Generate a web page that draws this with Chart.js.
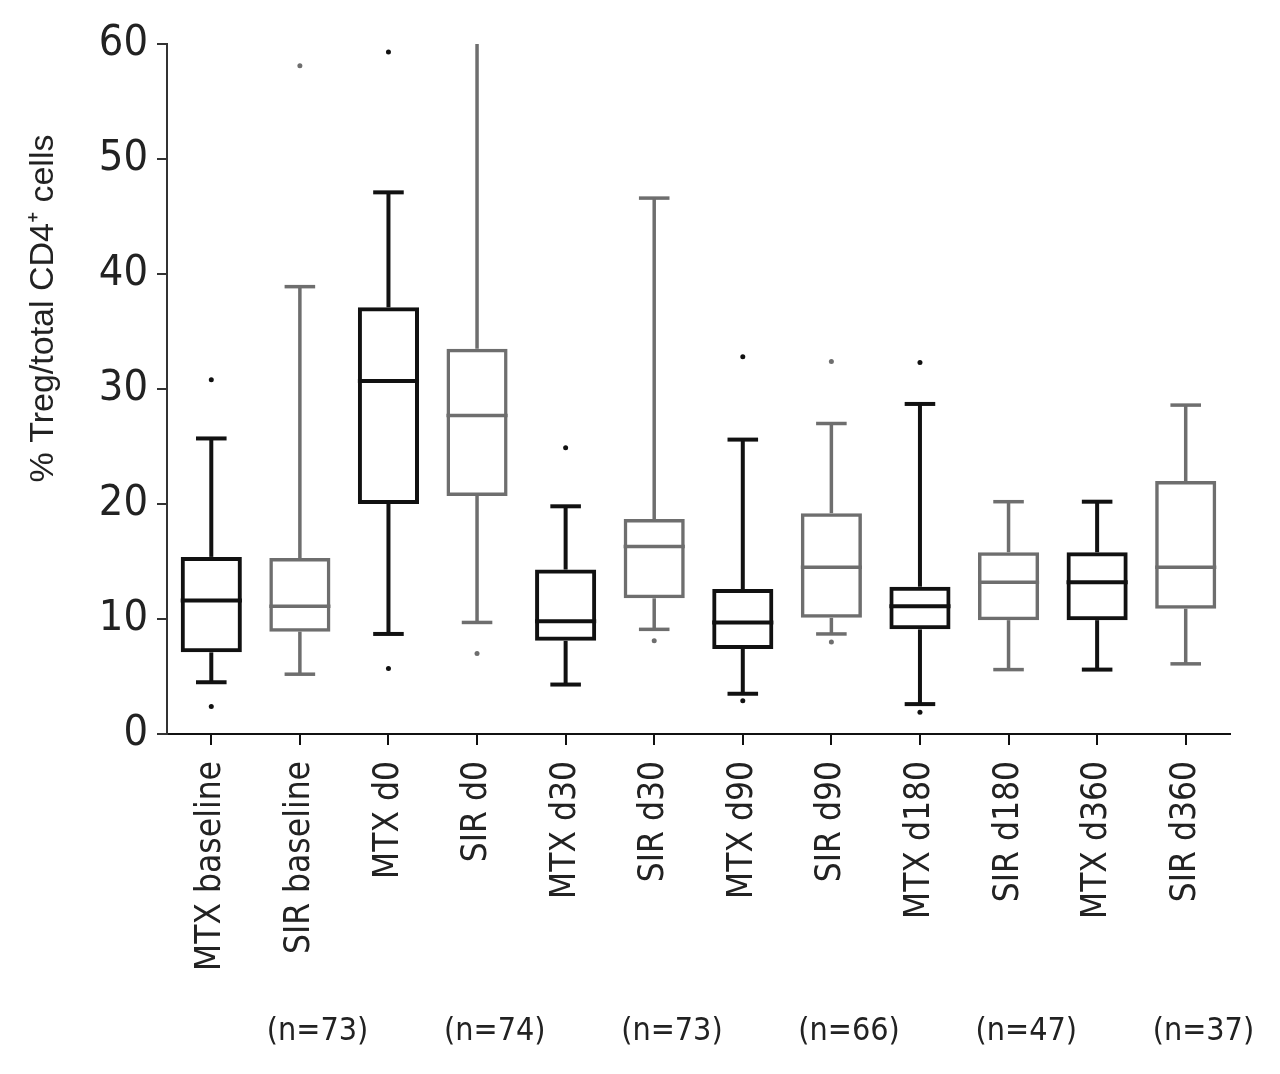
<!DOCTYPE html>
<html>
<head>
<meta charset="utf-8">
<script src="https://cdn.jsdelivr.net/npm/chart.js@4"></script>
<style>
  html, body { margin: 0; padding: 0; background: #fff; }
  #wrap { width: 1280px; height: 1074px; }
</style>
</head>
<body>
<div id="wrap"><canvas id="boxChart"></canvas></div>
<script>
/* ---------------- data ---------------- */

const categories = ['MTX baseline', 'SIR baseline', 'MTX d0', 'SIR d0', 'MTX d30', 'SIR d30',
                    'MTX d90', 'SIR d90', 'MTX d180', 'SIR d180', 'MTX d360', 'SIR d360'];

const whiskerLow  = [4.5, 5.2, 8.7, 9.7, 4.3, 9.1, 3.5, 8.7, 2.6, 5.6, 5.6, 6.1];
const q1          = [7.1, 8.9, 20.0, 20.7, 8.1, 11.8, 7.4, 10.1, 9.1, 9.9, 9.9, 10.9];
const median      = [11.6, 11.1, 30.7, 27.7, 9.8, 16.3, 9.7, 14.5, 11.1, 13.2, 13.2, 14.5];
const q3          = [15.4, 15.3, 37.1, 33.5, 14.3, 18.7, 12.6, 19.2, 12.8, 15.8, 15.8, 22.0];
const whiskerHigh = [25.7, 38.9, 47.1, 60, 19.8, 46.6, 25.6, 27.0, 28.7, 20.2, 20.2, 28.6];

const outliers = [
  {x: 'MTX baseline', y: 30.8}, {x: 'MTX baseline', y: 2.4},
  {x: 'SIR baseline', y: 58.1},
  {x: 'MTX d0', y: 59.3}, {x: 'MTX d0', y: 5.7},
  {x: 'SIR d0', y: 7.0},
  {x: 'MTX d30', y: 24.9},
  {x: 'SIR d30', y: 8.1},
  {x: 'MTX d90', y: 32.8}, {x: 'MTX d90', y: 2.9},
  {x: 'SIR d90', y: 32.4}, {x: 'SIR d90', y: 8.0},
  {x: 'MTX d180', y: 32.3}, {x: 'MTX d180', y: 1.9}
];

const nLabels = ['(n=73)', '(n=74)', '(n=73)', '(n=66)', '(n=47)', '(n=37)'];

const yTitle = '% Treg/total CD4\u207A cells';

/* ---------------- styles ---------------- */

const BLACK = '#111';
const GRAY = '#6e6e6e';
const NARROW = "'DejaVu Sans Condensed', 'Liberation Sans', sans-serif";
const colorOf = i => (i % 2 ? GRAY : BLACK);
const widthOf = i => (i % 2 ? 3.5 : 4);

/* ---------------- whiskers + medians ---------------- */

const boxParts = {
  id: 'boxParts',
  afterDatasetsDraw(chart) {
    const {ctx, scales: {x, y}} = chart;
    const meta = chart.getDatasetMeta(0);
    const seg = (x1, y1, x2, y2) => {
      ctx.beginPath(); ctx.moveTo(x1, y1); ctx.lineTo(x2, y2); ctx.stroke();
    };
    ctx.save();
    categories.forEach((c, i) => {
      const bar = meta.data[i];
      const cx = x.getPixelForValue(i);
      const half = bar.width / 2;
      const cap = half / 2;
      ctx.strokeStyle = colorOf(i);
      ctx.lineWidth = widthOf(i);
      ctx.lineCap = 'butt';

      const yHi = y.getPixelForValue(whiskerHigh[i]);
      const yLo = y.getPixelForValue(whiskerLow[i]);
      seg(cx, y.getPixelForValue(q3[i]), cx, yHi);
      seg(cx, y.getPixelForValue(q1[i]), cx, yLo);
      if (whiskerHigh[i] < y.max) seg(cx - cap, yHi, cx + cap, yHi);
      seg(cx - cap, yLo, cx + cap, yLo);

      const yMed = y.getPixelForValue(median[i]);
      seg(cx - half, yMed, cx + half, yMed);
    });
    ctx.restore();
  }
};

/* ---------------- y title + group sizes ---------------- */

const extraText = {
  id: 'extraText',
  afterDraw(chart) {
    const {ctx, scales: {x, y}, chartArea} = chart;
    ctx.save();
    ctx.fillStyle = '#222';
    ctx.textAlign = 'center';
    ctx.textBaseline = 'middle';

    // group sizes, one under each MTX/SIR pair
    ctx.font = '32px ' + NARROW;
    nLabels.forEach((t, k) => {
      ctx.fillText(t, x.getPixelForValue(2 * k + 1.2), chartArea.bottom + 298);
    });

    // y axis title, sits a bit above the middle in the original
    ctx.font = "34px 'Liberation Sans', Arial, sans-serif";
    ctx.translate(44, y.getPixelForValue(37));
    ctx.rotate(-Math.PI / 2);
    ctx.fillText(yTitle, 0, 0);
    ctx.restore();
  }
};

/* ---------------- chart ---------------- */

new Chart(document.getElementById('boxChart'), {
  type: 'bar',
  data: {
    labels: categories,
    datasets: [
      {
        type: 'bar',
        data: categories.map((c, i) => [q1[i], q3[i]]),
        backgroundColor: 'rgba(0,0,0,0)',
        borderColor: categories.map((c, i) => colorOf(i)),
        borderWidth: categories.map((c, i) => widthOf(i)),
        borderSkipped: false,
        barPercentage: 0.69,
        categoryPercentage: 1
      },
      {
        type: 'line',
        data: outliers,
        showLine: false,
        pointRadius: 2.5,
        pointBorderWidth: 0,
        pointBackgroundColor: ctx => colorOf(categories.indexOf(ctx.raw ? ctx.raw.x : '')),
        pointBorderColor: 'rgba(0,0,0,0)'
      }
    ]
  },
  options: {
    responsive: true,
    maintainAspectRatio: false,
    devicePixelRatio: 1,
    animation: false,
    layout: { padding: { top: 44, right: 50, left: 0, bottom: 0 } },
    plugins: {
      legend: { display: false },
      tooltip: { enabled: false }
    },
    scales: {
      x: {
        offset: true,
        grid: { display: true, drawOnChartArea: false, drawTicks: true, tickLength: 11,
                offset: false, color: BLACK, lineWidth: 2 },
        border: { display: true, color: BLACK, width: 2 },
        ticks: {
          color: '#222',
          font: { family: NARROW, size: 35 },
          minRotation: 90,
          maxRotation: 90,
          padding: 16,
          autoSkip: false
        },
        afterFit(scale) { scale.height = 340; }
      },
      y: {
        min: 0,
        max: 60,
        ticks: {
          stepSize: 10,
          color: '#222',
          font: { family: NARROW, size: 43 },
          padding: 9
        },
        grid: { display: true, drawOnChartArea: false, drawTicks: true, tickLength: 10,
                color: '#333', lineWidth: 2 },
        border: { display: true, color: '#333', width: 2 },
        afterFit(scale) { scale.width = 167; }
      }
    }
  },
  plugins: [boxParts, extraText]
});
</script>
</body>
</html>
